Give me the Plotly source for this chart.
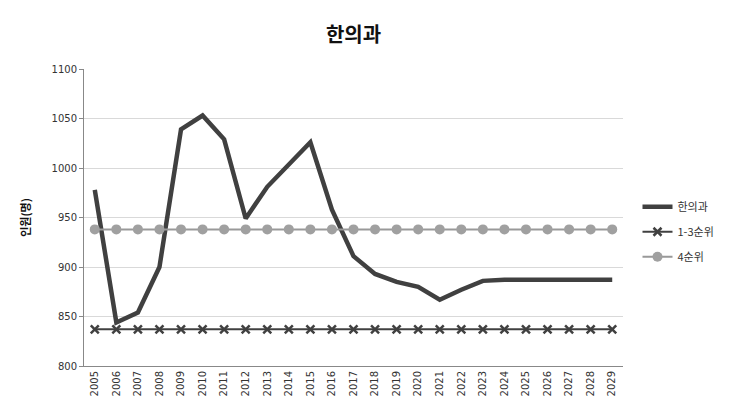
import plotly.graph_objects as go

years = [str(y) for y in range(2005, 2030)]
hanui = [978, 844, 854, 900, 1039, 1053, 1029, 949, 981, 1003, 1026, 958,
         911, 893, 885, 880, 867, 877, 886, 887, 887, 887, 887, 887, 887]
rank13 = [837] * 25
rank4 = [938] * 25

font_kr = "Noto Sans CJK KR, Noto Sans, sans-serif"

fig = go.Figure()
fig.add_trace(go.Scatter(x=years, y=hanui, name="한의과", mode="lines", legendgroup="a",
                         line=dict(color="#404040", width=4.5)))
fig.add_trace(go.Scatter(x=years, y=rank13, name="1-3순위", mode="lines+markers", legendgroup="b",
                         line=dict(color="#404040", width=2),
                         marker=dict(symbol="x-thin", size=8, color="#404040",
                                     line=dict(width=2.5, color="#404040"))))
fig.add_trace(go.Scatter(x=years, y=rank4, name="4순위", mode="lines+markers", legendgroup="c",
                         line=dict(color="#999999", width=2),
                         marker=dict(symbol="circle", size=10, color="#a0a0a0")))

fig.update_layout(
    width=730, height=410,
    margin=dict(l=84, r=106, t=69, b=44),
    plot_bgcolor="white", paper_bgcolor="white",
    title=dict(text="<b>한의과</b>", x=0.5, xref="paper", y=0.915, yanchor="middle",
               font=dict(family=font_kr, size=20, color="#111111")),
    font=dict(family=font_kr, size=11, color="#333333"),
    legend=dict(x=1.025, y=0.585, xanchor="left", yanchor="top",
                font=dict(family=font_kr, size=11, color="#333333"),
                traceorder="grouped", tracegroupgap=6, itemwidth=30),
    showlegend=True,
)
fig.update_xaxes(type="category", range=[-0.5, 24.5], tickangle=-90,
                 showgrid=False, showline=True, linecolor="#888888", linewidth=1,
                 ticks="", tickfont=dict(family="DejaVu Sans, sans-serif", size=10, color="#333333"))
fig.update_yaxes(range=[800, 1100], dtick=50, showgrid=True, gridcolor="#d9d9d9",
                 showline=True, linecolor="#888888", linewidth=1,
                 ticks="outside", ticklen=4, tickcolor="#888888",
                 tickfont=dict(family="DejaVu Sans, sans-serif", size=10, color="#333333"),
                 title=dict(text="<b>인원(명)</b>", standoff=18,
                            font=dict(family=font_kr, size=11, color="#111111")),
                 zeroline=False)

fig.write_html("out.html")
